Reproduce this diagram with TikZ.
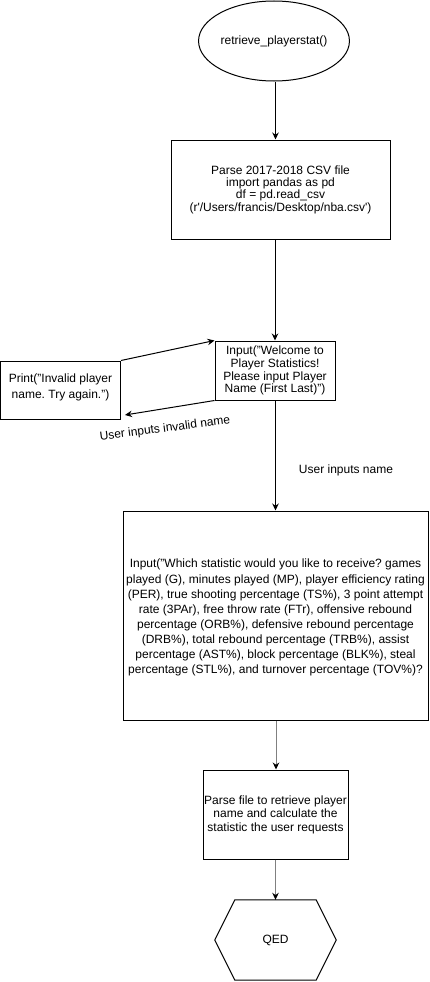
\documentclass[tikz,border=0pt]{standalone}
\usepackage{fontspec}
\setmainfont{Liberation Sans}
\usetikzlibrary{arrows.meta,shapes.geometric}
\frenchspacing
\begin{document}
\begin{tikzpicture}[x=1pt,y=-1pt,
  font=\fontsize{12}{14.5}\selectfont,
  box/.style={draw,line width=1pt,align=center,inner sep=0pt},
  conn/.style={line width=1pt,-{Stealth[length=7pt,width=6.5pt,color=black]}},
  lbl/.style={inner sep=0pt}]
\useasboundingbox (0,0) rectangle (430,982);
\node[box,ellipse,minimum width=116,minimum height=80] (ell) at (274,41) {retrieve\_playerstat()};
\node[box,minimum width=219,minimum height=99,font=\fontsize{12}{12.3}\selectfont] (csv) at (280.5,189.5)
  {Parse 2017-2018 CSV file\\import pandas as pd\\df = pd.read\_csv\\(r\textquotesingle/Users/francis/Desktop/nba.csv\textquotesingle)};
\node[box,minimum width=120,minimum height=59,font=\fontsize{12}{12.8}\selectfont] (inp) at (275,370.5)
  {Input("Welcome to\\Player Statistics!\\Please input Player\\Name (First Last)")};
\node[box,minimum width=120,minimum height=58,font=\fontsize{12}{16.5}\selectfont] (prt) at (60.5,390)
  {\mbox{}\\[-13pt]Print("Invalid player\\name. Try again.")};
\node[box,minimum width=305,minimum height=209,font=\fontsize{12}{15.1}\selectfont] (big) at (275.5,615.5)
  {\mbox{}\\[-2.1pt]Input("Which statistic would you like to receive? games\\
played (G), minutes played (MP), player efficiency rating\\
(PER), true shooting percentage (TS\%), 3 point attempt\\
rate (3PAr), free throw rate (FTr), offensive rebound\\
percentage (ORB\%), defensive rebound percentage\\
(DRB\%), total rebound percentage (TRB\%), assist\\
percentage (AST\%), block percentage (BLK\%), steal\\
percentage (STL\%), and turnover percentage (TOV\%)?};
\node[box,minimum width=145,minimum height=89,font=\fontsize{12}{13.4}\selectfont] (prs) at (275.5,814.5)
  {Parse file to retrieve player\\name and calculate the\\statistic the user requests};
\node[inner sep=0pt,minimum width=121,minimum height=80] (qed) at (275.5,940) {QED};
\draw[line width=1pt,line join=miter] (qed.west) -- ([xshift=20]qed.north west) -- ([xshift=-20]qed.north east)
  -- (qed.east) -- ([xshift=-20]qed.south east) -- ([xshift=20]qed.south west) -- cycle;
\coordinate (back) at (125,415);
% connectors
\draw[conn] ([xshift=1.5]ell.south) -- ([xshift=1.5]ell.south |- csv.north);
\draw[conn] ([xshift=-5.5]csv.south) -- ([xshift=-5.5]csv.south |- inp.north);
\draw[conn] ([xshift=0.5]inp.south) -- ([xshift=0.5]inp.south |- big.north);
\draw[conn,draw=gray] ([xshift=0.5]big.south) -- ([xshift=0.5]big.south |- prs.north);
\draw[conn,draw=gray] (prs.south) -- (prs.south |- qed.north);
\draw[conn] (prt.north east) -- (inp.north west);
\draw[conn] (inp.south west) -- (back);
\node[lbl,rotate=7.5] (l1) at (165,429) {User inputs invalid name};
\node[lbl] (l2) at (346,470) {User inputs name};
\end{tikzpicture}
\end{document}
